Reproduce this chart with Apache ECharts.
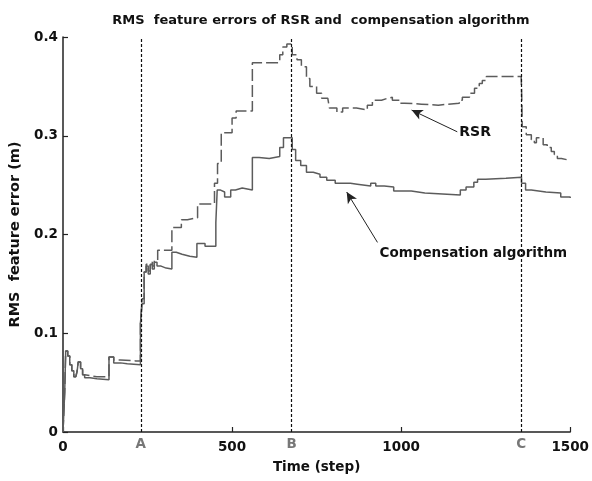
<!DOCTYPE html>
<html>
<head>
<meta charset="utf-8">
<script src="https://cdn.jsdelivr.net/npm/echarts@6/dist/echarts.min.js"></script>
<style>
  html, body { margin: 0; padding: 0; background: #fff; }
  #chart { width: 592px; height: 481px; }
</style>
</head>
<body>
<div id="chart"></div>
<script>
// step (time) -> value, held until the next step
const rsrData = [
  [0, 0], [5, 0.04], [8, 0.082], [14, 0.077], [20, 0.068], [26, 0.062], [32, 0.056],
  [38, 0.054], [42, 0.062], [45, 0.071], [52, 0.064], [58, 0.058], [64, 0.057],
  [80, 0.056], [100, 0.056], [136, 0.076], [150, 0.073], [170, 0.072], [215, 0.072],
  [229, 0.11], [234, 0.135], [240, 0.162], [246, 0.17], [252, 0.163], [258, 0.172],
  [264, 0.168], [270, 0.174], [280, 0.184], [322, 0.207], [350, 0.215], [368, 0.217],
  [398, 0.231], [448, 0.252], [457, 0.272], [468, 0.303], [500, 0.318], [512, 0.325],
  [560, 0.374], [641, 0.382], [650, 0.39], [662, 0.393], [678, 0.382], [692, 0.377],
  [705, 0.37], [720, 0.358], [730, 0.35], [750, 0.343], [765, 0.338], [783, 0.336],
  [788, 0.328], [810, 0.324], [827, 0.328], [868, 0.326], [900, 0.331], [915, 0.336],
  [942, 0.338], [960, 0.339], [974, 0.336], [995, 0.333], [1010, 0.332], [1060, 0.331],
  [1110, 0.333], [1172, 0.336], [1181, 0.339], [1202, 0.343], [1217, 0.348],
  [1231, 0.353], [1240, 0.356], [1252, 0.36], [1355, 0.36], [1356, 0.348],
  [1357, 0.333], [1358, 0.309], [1370, 0.301], [1385, 0.296], [1394, 0.293],
  [1400, 0.298], [1420, 0.291], [1432, 0.288], [1444, 0.284], [1453, 0.281],
  [1462, 0.277], [1474, 0.275], [1500, 0.275]
];

const compData = [
  [0, 0], [5, 0.04], [8, 0.082], [14, 0.077], [20, 0.068], [26, 0.062], [32, 0.056],
  [38, 0.054], [42, 0.062], [45, 0.071], [52, 0.064], [58, 0.058], [64, 0.055],
  [80, 0.054], [100, 0.053], [136, 0.076], [150, 0.07], [170, 0.069], [190, 0.068],
  [229, 0.11], [234, 0.13], [240, 0.162], [246, 0.168], [252, 0.16], [258, 0.17],
  [264, 0.165], [270, 0.172], [278, 0.168], [290, 0.166], [305, 0.165], [322, 0.182],
  [335, 0.18], [352, 0.178], [375, 0.177], [396, 0.191], [420, 0.188], [452, 0.212],
  [456, 0.245], [466, 0.243], [478, 0.238], [496, 0.245], [510, 0.247], [530, 0.245],
  [560, 0.278], [580, 0.277], [610, 0.279], [641, 0.288], [652, 0.298], [678, 0.286],
  [688, 0.275], [703, 0.27], [720, 0.263], [740, 0.261], [760, 0.258], [780, 0.255],
  [805, 0.252], [850, 0.251], [870, 0.249], [910, 0.252], [925, 0.249], [950, 0.248],
  [978, 0.244], [1030, 0.242], [1070, 0.24], [1175, 0.245], [1192, 0.248],
  [1215, 0.253], [1226, 0.256], [1250, 0.257], [1310, 0.258], [1356, 0.252],
  [1368, 0.245], [1385, 0.243], [1428, 0.242], [1472, 0.238], [1500, 0.237]
];

const eventSteps = [230, 676, 1355];
const eventNames = ['A', 'B', 'C'];

// annotation text anchors and arrows: [from, to] in (step, value)
const rsrLabelAt = [1172, 0.303];
const rsrArrow = [[1166, 0.304], [1031, 0.326]];
const compLabelAt = [936, 0.181];
const compArrow = [[930, 0.192], [839, 0.243]];

const FONT = '"DejaVu Sans", Verdana, sans-serif';
const lineGray = '#5c5c5c';

const chart = echarts.init(document.getElementById('chart'), null, { renderer: 'canvas' });

const option = {
  backgroundColor: '#ffffff',
  animation: false,
  title: {
    text: 'RMS  feature errors of RSR and  compensation algorithm',
    left: 316,
    textAlign: 'center',
    top: 9,
    textStyle: { color: '#111', fontFamily: FONT, fontSize: 13, fontWeight: 'bold' }
  },
  grid: { left: 63, right: 21, top: 37, bottom: 49 },
  xAxis: {
    type: 'value',
    min: 0,
    max: 1500,
    interval: 500,
    name: 'Time (step)',
    nameLocation: 'middle',
    nameGap: 28,
    nameTextStyle: { color: '#111', fontFamily: FONT, fontSize: 13.5, fontWeight: 'bold' },
    axisLine: { lineStyle: { color: '#222', width: 1.5 } },
    axisTick: { inside: true, length: 5, lineStyle: { color: '#222', width: 1.2 } },
    axisLabel: {
      color: '#111', fontFamily: FONT, fontSize: 13.5, fontWeight: 'bold', margin: 8,
      formatter: v => String(v)
    },
    splitLine: { show: false }
  },
  yAxis: {
    type: 'value',
    min: 0,
    max: 0.4,
    interval: 0.1,
    name: 'RMS  feature error (m)',
    nameLocation: 'middle',
    nameGap: 40,
    nameTextStyle: { color: '#111', fontFamily: FONT, fontSize: 14.5, fontWeight: 'bold' },
    axisLine: { show: true, lineStyle: { color: '#222', width: 1.5 } },
    axisTick: { show: true, inside: true, length: 5, lineStyle: { color: '#222', width: 1.2 } },
    axisLabel: {
      color: '#111', fontFamily: FONT, fontSize: 13.5, fontWeight: 'bold', margin: 5,
      formatter: v => (v === 0 ? '0' : v.toFixed(1))
    },
    splitLine: { show: false }
  },
  series: [
    {
      name: 'RSR',
      type: 'line',
      step: 'end',
      data: rsrData,
      showSymbol: false,
      lineStyle: { color: lineGray, width: 1.5, type: [12, 4] },
      z: 3,
      markLine: {
        silent: true,
        symbol: 'none',
        animation: false,
        lineStyle: { color: '#111', width: 1.2, type: [3, 2] },
        label: {
          show: true,
          position: 'start',
          distance: 5,
          color: '#777',
          fontFamily: FONT,
          fontSize: 13.5,
          fontWeight: 'bold',
          formatter: p => p.name
        },
        data: eventSteps.map((s, i) => ({ xAxis: s, name: eventNames[i] }))
      },
      markPoint: {
        silent: true,
        symbol: 'circle',
        symbolSize: 0,
        label: {
          show: true,
          position: 'right',
          distance: 0,
          color: '#111',
          fontFamily: FONT,
          fontSize: 14,
          fontWeight: 'bold',
          formatter: 'RSR'
        },
        data: [{ coord: rsrLabelAt }]
      }
    },
    {
      name: 'Compensation algorithm',
      type: 'line',
      step: 'end',
      data: compData,
      showSymbol: false,
      lineStyle: { color: lineGray, width: 1.5 },
      z: 3,
      markLine: {
        silent: true,
        animation: false,
        symbol: ['none', 'arrow'],
        symbolSize: [8, 11],
        lineStyle: { color: '#222', width: 1, type: 'solid' },
        label: { show: false },
        data: [
          [{ coord: rsrArrow[0] }, { coord: rsrArrow[1] }],
          [{ coord: compArrow[0] }, { coord: compArrow[1] }]
        ]
      },
      markPoint: {
        silent: true,
        symbol: 'circle',
        symbolSize: 0,
        label: {
          show: true,
          position: 'right',
          distance: 0,
          color: '#111',
          fontFamily: FONT,
          fontSize: 13.5,
          fontWeight: 'bold',
          formatter: 'Compensation algorithm'
        },
        data: [{ coord: compLabelAt }]
      }
    }
  ]
};

chart.setOption(option);
</script>
</body>
</html>
